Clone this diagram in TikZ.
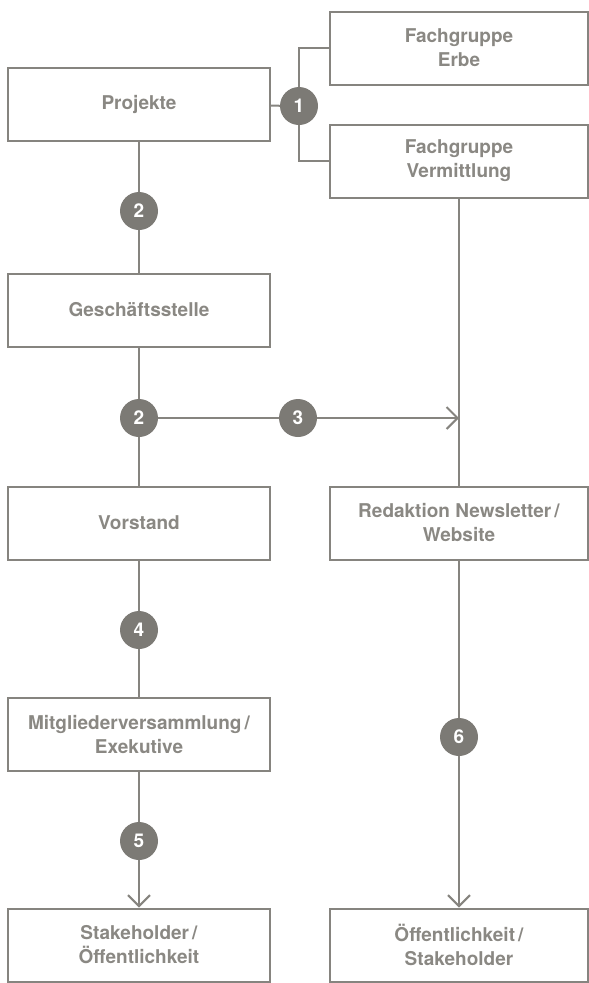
\documentclass[tikz,border=0pt]{standalone}
\usepackage{fontspec}
\setmainfont{TeX Gyre Heros}
\usepackage{xcolor}
\usepackage{tikz}
\usetikzlibrary{arrows.meta,positioning,calc}
\definecolor{linegray}{HTML}{86847F}
\definecolor{dotgray}{HTML}{7C7A75}
\definecolor{textgray}{HTML}{8A8883}
\tikzset{
  box/.style = {draw = linegray, line width = 2pt, minimum width = 262pt, minimum height = 73pt,
    inner sep = 0pt, align = center, text = textgray, font = \fontsize{19}{24}\selectfont\bfseries},
  rbox/.style = {box, minimum width = 258pt},
  num/.style = {circle, fill = dotgray, minimum size = 38pt, inner sep = 0pt, text = white,
    font = \fontsize{19}{19}\selectfont\bfseries},
  link/.style = {draw = linegray, line width = 2pt},
  tip/.style = {link, -{Straight Barb[length = 11pt, width = 22pt, line width = 2pt]}}
}
\begin{document}
\begin{tikzpicture}[x = 1pt, y = -1pt]
\useasboundingbox (0,0) rectangle (589,983);
% Left column
\node[box] (proj) at (139,104) {Projekte};
\node[box] (gs) at (139,310) {Geschäftsstelle};
\node[box] (vor) at (139,523) {Vorstand};
\node[box] (mv) at (139,734) {Mitgliederversammlung\,/\\Exekutive};
\node[box] (sto) at (139,945) {Stakeholder\,/\\Öffentlichkeit};
% Right column
\node[rbox] (erbe) at (459,48) {Fachgruppe\\Erbe};
\node[rbox] (verm) at (459,161) {Fachgruppe\\Vermittlung};
\node[rbox] (red) at (459,523) {Redaktion Newsletter\,/\\Website};
\node[rbox] (ost) at (459,945) {Öffentlichkeit\,/\\Stakeholder};
% Numbers
\node[num] (n1) at (299,106) {1};
\node[num] (n2a) at (139,211) {2};
\node[num] (n2b) at (139,418) {2};
\node[num] (n3) at (298,418) {3};
\node[num] (n4) at (139,630) {4};
\node[num] (n5) at (139,841) {5};
\node[num] (n6) at (459,737) {6};
\coordinate (hit) at (459,418);
% Connectors
\draw[link] (proj) -- (n1);
\draw[link] (n1) |- (erbe.west);
\draw[link] (n1) |- (verm.west);
\draw[link] (proj) -- (n2a) -- (gs);
\draw[link] (gs) -- (n2b) -- (vor);
\draw[link] (n2b) -- (n3);
\draw[tip] (n3) -- (hit);
\draw[link] (verm) -- (red);
\draw[link] (vor) -- (n4) -- (mv);
\draw[link] (mv) -- (n5);
\draw[tip] (n5) -- (sto);
\draw[link] (red) -- (n6);
\draw[tip] (n6) -- (ost);
\end{tikzpicture}
\end{document}
